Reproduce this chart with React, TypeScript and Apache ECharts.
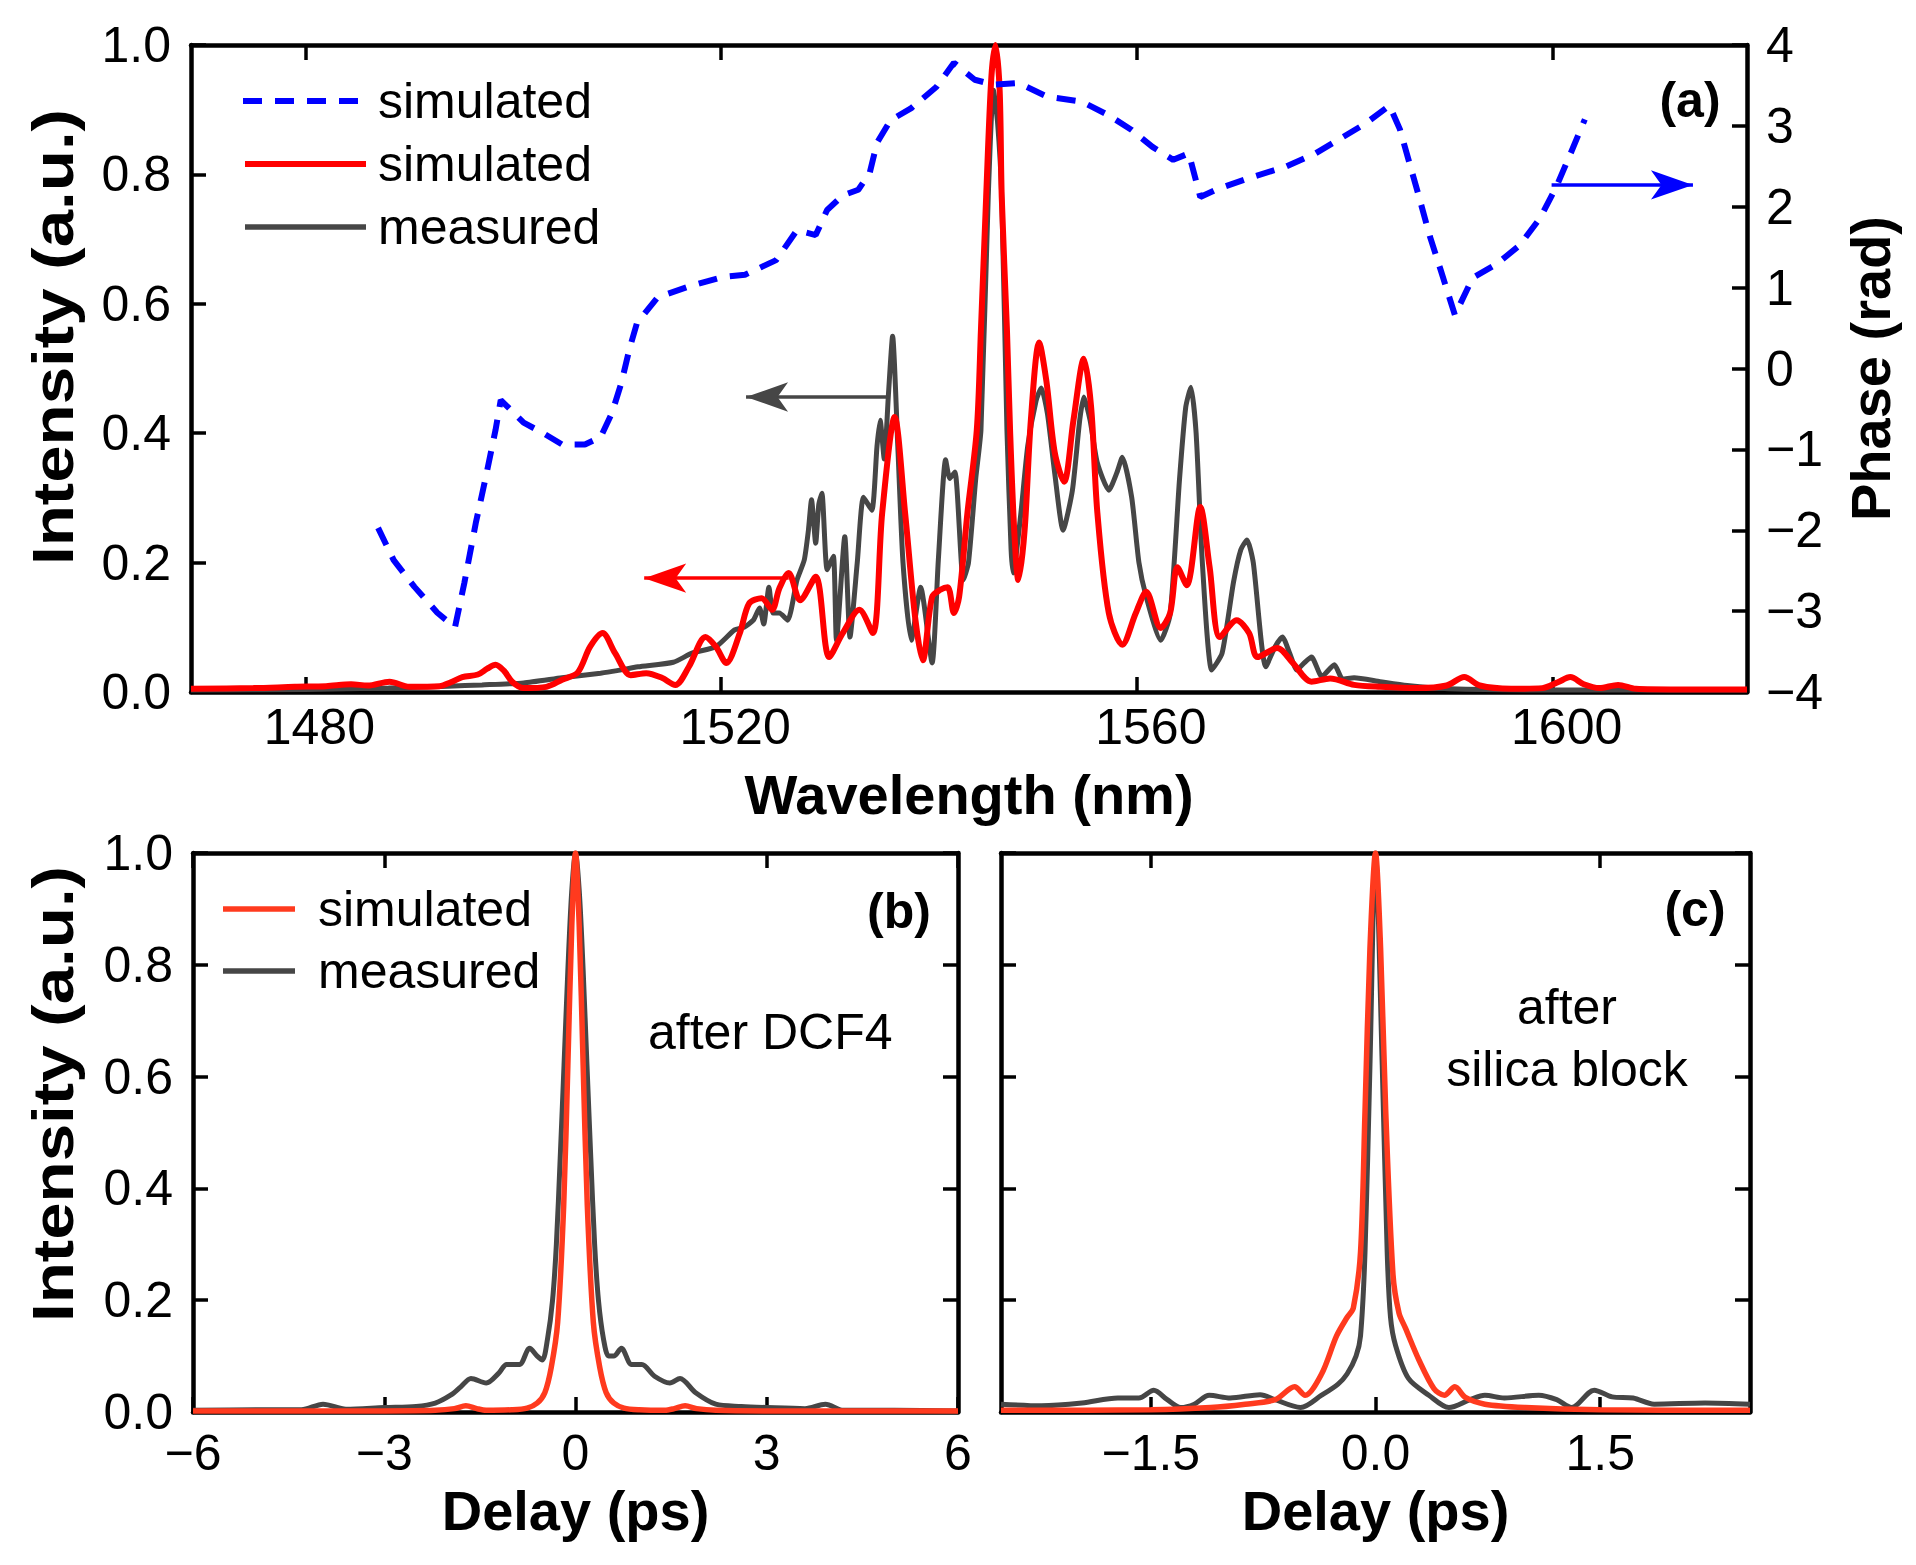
import React, { useEffect, useRef } from "react";
import * as echarts from "echarts";

// ---------------- Panel (a): spectrum & phase ----------------
const wavelengthTicks = [1480, 1520, 1560, 1600];
const wavelengthMin = 1469;
const wavelengthMax = 1618.7;

// simulated spectral phase (rad) vs wavelength (nm)
const phaseSimulated: [number, number][] = [
  [1487.0, -1.97], [1488.5, -2.37], [1490.5, -2.7], [1492.7, -3.02], [1494.4, -3.2],
  [1495.3, -2.65], [1496.4, -1.91], [1497.3, -1.38], [1498.3, -0.76], [1498.8, -0.39],
  [1501.0, -0.67], [1502.9, -0.8], [1504.7, -0.94], [1506.9, -0.94], [1508.4, -0.85],
  [1509.5, -0.55], [1510.4, -0.18], [1511.2, 0.25], [1511.9, 0.56], [1513.9, 0.88],
  [1516.8, 1.01], [1520.1, 1.13], [1522.3, 1.16], [1525.3, 1.34], [1527.3, 1.71],
  [1529.1, 1.65], [1530.2, 1.96], [1531.7, 2.14], [1533.2, 2.21], [1534.3, 2.42],
  [1535.0, 2.79], [1536.3, 3.07], [1538.3, 3.22], [1540.7, 3.48], [1542.4, 3.78],
  [1544.4, 3.57], [1546.2, 3.51], [1548.6, 3.53], [1551.4, 3.36], [1554.7, 3.3],
  [1557.3, 3.13], [1559.5, 2.95], [1561.5, 2.74], [1563.5, 2.58], [1565.0, 2.66],
  [1566.1, 2.12], [1567.6, 2.21], [1570.9, 2.36], [1574.2, 2.49], [1577.2, 2.66],
  [1579.8, 2.86], [1582.0, 3.03], [1584.3, 3.25], [1585.3, 2.96], [1587.0, 2.19],
  [1588.2, 1.63], [1589.2, 1.23], [1590.6, 0.66], [1592.3, 1.12], [1594.6, 1.29],
  [1596.8, 1.52], [1598.8, 1.86], [1600.4, 2.26], [1601.7, 2.65], [1603.1, 3.08],
];

// simulated spectrum intensity (a.u.)
const spectrumSimulated: [number, number][] = [
  [1469, 0.005], [1475, 0.006], [1479, 0.008], [1482, 0.009], [1484.4, 0.012], [1486, 0.01],
  [1488.1, 0.016], [1490, 0.008], [1492.9, 0.009], [1494, 0.015], [1495.1, 0.023], [1496.6, 0.027],
  [1497.5, 0.036], [1498.3, 0.042], [1499.1, 0.033], [1499.9, 0.016], [1501, 0.006], [1503.2, 0.008],
  [1504.7, 0.019], [1506.2, 0.03], [1507.4, 0.07], [1508.6, 0.091], [1509.8, 0.06], [1511.3, 0.026],
  [1512.8, 0.029], [1514.3, 0.022], [1515.6, 0.011], [1516.9, 0.039], [1518.5, 0.085], [1519.5, 0.07],
  [1520.5, 0.045], [1521.8, 0.091], [1522.7, 0.137], [1523.9, 0.145], [1524.9, 0.127], [1525.6, 0.16],
  [1526.5, 0.184], [1527.6, 0.142], [1529.1, 0.178], [1530.4, 0.054], [1531.7, 0.091], [1533.3, 0.127],
  [1534.6, 0.091], [1535.5, 0.277], [1536.7, 0.425], [1537.7, 0.277], [1538.7, 0.111], [1539.4, 0.049],
  [1540.3, 0.147], [1541.1, 0.158], [1541.8, 0.162], [1542.4, 0.122], [1542.9, 0.147], [1543.7, 0.277],
  [1544.6, 0.405], [1545.0, 0.56], [1545.5, 0.765], [1546.0, 0.95], [1546.4, 1.0], [1546.8, 0.93],
  [1547.0, 0.765], [1547.5, 0.56], [1547.8, 0.405], [1548.2, 0.25], [1548.6, 0.173], [1549.2, 0.25],
  [1549.8, 0.42], [1550.6, 0.54], [1551.3, 0.48], [1552.1, 0.37], [1553.0, 0.325], [1553.9, 0.42],
  [1554.9, 0.515], [1555.6, 0.44], [1556.2, 0.277], [1557.3, 0.122], [1558.6, 0.073], [1559.9, 0.122],
  [1560.9, 0.155], [1562.3, 0.099], [1563.2, 0.122], [1563.9, 0.193], [1564.8, 0.165], [1566.1, 0.286],
  [1567.0, 0.193], [1568.0, 0.085], [1569.6, 0.111], [1570.8, 0.091], [1571.6, 0.054], [1573.5, 0.068],
  [1575.0, 0.045], [1576.8, 0.016], [1578.6, 0.021], [1580.9, 0.011], [1583.4, 0.008], [1587, 0.006],
  [1589.8, 0.01], [1591.5, 0.023], [1593, 0.01], [1596, 0.005], [1599, 0.006], [1600.5, 0.015],
  [1601.7, 0.023], [1603, 0.012], [1604.5, 0.006], [1606.3, 0.011], [1608, 0.005], [1612, 0.004],
  [1618.7, 0.004],
];

// measured spectrum intensity (a.u.)
const spectrumMeasured: [number, number][] = [
  [1469, 0.003], [1480, 0.004], [1488, 0.006], [1493.7, 0.009], [1497, 0.011], [1501, 0.014],
  [1504.7, 0.022], [1508.4, 0.029], [1510, 0.033], [1512.0, 0.039], [1515.4, 0.046], [1517.2, 0.06],
  [1519.5, 0.07], [1521.3, 0.096], [1522.2, 0.1], [1523.1, 0.111], [1523.7, 0.13], [1524.1, 0.105],
  [1524.6, 0.162], [1525.0, 0.122], [1525.6, 0.122], [1526.4, 0.111], [1527.3, 0.173], [1528.0, 0.204],
  [1528.4, 0.25], [1528.7, 0.297], [1529.1, 0.23], [1529.4, 0.29], [1529.7, 0.307], [1530.2, 0.189],
  [1530.8, 0.21], [1531.1, 0.08], [1531.9, 0.24], [1532.4, 0.085], [1533.1, 0.2], [1533.7, 0.301],
  [1534.5, 0.281], [1535.0, 0.38], [1535.3, 0.42], [1535.7, 0.36], [1536.1, 0.46], [1536.5, 0.55],
  [1537.0, 0.38], [1537.5, 0.2], [1538.3, 0.08], [1539.2, 0.162], [1540.3, 0.045], [1540.9, 0.204],
  [1541.6, 0.359], [1542.0, 0.33], [1542.5, 0.34], [1543.3, 0.173], [1543.8, 0.2], [1544.5, 0.33],
  [1545.0, 0.405], [1545.7, 0.765], [1546.2, 0.93], [1546.6, 0.88], [1547.0, 0.765], [1547.5, 0.405],
  [1547.9, 0.22], [1548.1, 0.184], [1548.8, 0.27], [1549.5, 0.38], [1550.3, 0.45], [1550.8, 0.47],
  [1551.4, 0.43], [1552.1, 0.338], [1552.9, 0.25], [1553.8, 0.312], [1554.5, 0.42], [1554.9, 0.456],
  [1555.5, 0.42], [1556.2, 0.354], [1557.3, 0.312], [1558.1, 0.34], [1558.6, 0.363], [1559.5, 0.301],
  [1560.2, 0.2], [1560.9, 0.147], [1562.3, 0.08], [1563.2, 0.12], [1564.1, 0.328], [1564.7, 0.44],
  [1565.2, 0.471], [1565.7, 0.4], [1566.3, 0.2], [1567.2, 0.034], [1568.2, 0.06], [1569.3, 0.17],
  [1570.0, 0.22], [1570.6, 0.235], [1571.2, 0.2], [1572.4, 0.039], [1573.3, 0.07], [1574.0, 0.085],
  [1574.7, 0.06], [1575.4, 0.034], [1576.1, 0.045], [1576.8, 0.054], [1577.8, 0.024], [1579.0, 0.042],
  [1579.8, 0.02], [1580.9, 0.022], [1583.4, 0.016], [1586, 0.01], [1590, 0.005], [1600, 0.003],
  [1618.7, 0.003],
];

// annotation arrows (tail -> head), in data units
const arrowMeasured: [number, number][] = [[1536.1, 0.456], [1522.4, 0.456]];
const arrowSimulated: [number, number][] = [[1526.5, 0.176], [1512.6, 0.176]];
const arrowPhase: [number, number][] = [[1599.9, 2.27], [1613.5, 2.27]];

// ---------------- Panel (b): after DCF4 ----------------
const delayTicksB = [-6, -3, 0, 3, 6];
const autocorrSimulatedB: [number, number][] = [
  [-6, 0.002], [-3, 0.002], [-2.2, 0.003], [-1.9, 0.006], [-1.72, 0.011], [-1.55, 0.006],
  [-1.4, 0.003], [-1.0, 0.004], [-0.76, 0.007], [-0.6, 0.016], [-0.48, 0.035], [-0.38, 0.08],
  [-0.28, 0.16], [-0.185, 0.37], [-0.12, 0.62], [-0.058, 0.87], [0, 1.0], [0.058, 0.87],
  [0.12, 0.62], [0.185, 0.37], [0.28, 0.16], [0.38, 0.08], [0.48, 0.035], [0.6, 0.016],
  [0.76, 0.007], [1.0, 0.004], [1.4, 0.003], [1.55, 0.006], [1.72, 0.011], [1.9, 0.006],
  [2.2, 0.003], [3, 0.002], [6, 0.002],
];
const autocorrMeasuredB: [number, number][] = [
  [-6, 0.003], [-5, 0.004], [-4.3, 0.004], [-3.96, 0.014], [-3.6, 0.005], [-3.0, 0.008],
  [-2.5, 0.01], [-2.2, 0.016], [-1.96, 0.03], [-1.8, 0.045], [-1.64, 0.06], [-1.4, 0.052],
  [-1.2, 0.07], [-1.08, 0.085], [-0.88, 0.085], [-0.72, 0.114], [-0.6, 0.1], [-0.52, 0.093],
  [-0.44, 0.13], [-0.36, 0.2], [-0.3, 0.3], [-0.24, 0.454], [-0.18, 0.62], [-0.12, 0.79],
  [-0.06, 0.93], [0, 1.0], [0.06, 0.93], [0.12, 0.79], [0.18, 0.62], [0.24, 0.454], [0.3, 0.3],
  [0.36, 0.2], [0.44, 0.13], [0.52, 0.1], [0.6, 0.1], [0.72, 0.114], [0.88, 0.085], [1.04, 0.085],
  [1.24, 0.064], [1.48, 0.052], [1.64, 0.06], [1.88, 0.035], [2.2, 0.014], [2.6, 0.01], [3.0, 0.008],
  [3.6, 0.006], [3.92, 0.014], [4.2, 0.003], [5, 0.003], [6, 0.002],
];

// ---------------- Panel (c): after silica block ----------------
const delayTicksC = [-1.5, 0, 1.5];
const autocorrSimulatedC: [number, number][] = [
  [-2.5, 0.003], [-1.5, 0.004], [-1.1, 0.008], [-0.87, 0.014], [-0.67, 0.022], [-0.54, 0.045],
  [-0.47, 0.03], [-0.36, 0.068], [-0.26, 0.136], [-0.19, 0.169], [-0.148, 0.186], [-0.1, 0.286],
  [-0.07, 0.538], [-0.037, 0.83], [0, 1.0], [0.034, 0.83], [0.068, 0.54], [0.117, 0.245],
  [0.157, 0.177], [0.2, 0.15], [0.29, 0.093], [0.39, 0.042], [0.46, 0.03], [0.53, 0.045],
  [0.6, 0.026], [0.73, 0.014], [1.0, 0.008], [1.5, 0.004], [2.5, 0.003],
];
const autocorrMeasuredC: [number, number][] = [
  [-2.5, 0.014], [-2.23, 0.011], [-1.96, 0.016], [-1.72, 0.025], [-1.58, 0.025], [-1.48, 0.039],
  [-1.39, 0.022], [-1.3, 0.008], [-1.21, 0.014], [-1.11, 0.03], [-0.97, 0.025], [-0.77, 0.031],
  [-0.67, 0.022], [-0.5, 0.008], [-0.36, 0.03], [-0.25, 0.05], [-0.19, 0.068], [-0.13, 0.1],
  [-0.1, 0.136], [-0.07, 0.286], [-0.037, 0.62], [0, 1.0], [0.045, 0.62], [0.078, 0.286],
  [0.1, 0.17], [0.134, 0.119], [0.22, 0.06], [0.356, 0.03], [0.49, 0.008], [0.63, 0.022],
  [0.73, 0.03], [0.86, 0.025], [1.09, 0.03], [1.21, 0.022], [1.31, 0.008], [1.46, 0.039],
  [1.58, 0.027], [1.72, 0.025], [1.86, 0.014], [2.2, 0.016], [2.5, 0.014],
];

// ---------------- styling ----------------
const FONT = '"Liberation Sans", Arial, Helvetica, sans-serif';
const BLACK = "#000";
const RED_A = "#ff0000";
const RED_BC = "#ff3a1e";
const GRAY = "#464646";
const BLUE = "#0000ff";
const DASH = [19, 13];

const fmtNum = (v: number, d: number) => (v < 0 ? "\u2212" : "") + Math.abs(v).toFixed(d);

const axLine = { show: true, onZero: false, lineStyle: { color: BLACK, width: 4.5 } };
const axTick = (custom?: number[]) => ({
  show: true,
  inside: true,
  length: 15,
  lineStyle: { color: BLACK, width: 3.5 },
  ...(custom ? { customValues: custom } : {}),
});
const lbl = { color: BLACK, fontSize: 50, fontFamily: FONT };
const noSplit = { show: false };

const arrowMark = (a: [number, number][], color: string) => ({
  silent: true,
  symbol: ["none", "arrow"],
  symbolSize: [22, 42],
  label: { show: false },
  emphasis: { disabled: true },
  lineStyle: { color, width: 3.5, type: "solid" },
  data: [[{ coord: a[0] }, { coord: a[1] }]],
});

const txt = (
  text: string,
  x: number,
  y: number,
  size: number,
  bold: boolean,
  opts: Record<string, any> = {}
) => {
  const { align, lineHeight, ...rest } = opts;
  return {
    type: "text",
    x,
    y,
    silent: true,
    ...rest,
    style: {
      text,
      fill: BLACK,
      fontSize: size,
      fontWeight: bold ? "bold" : "normal",
      fontFamily: FONT,
      align: align || "center",
      verticalAlign: "middle",
      lineHeight,
    },
  };
};

const legLine = (x1: number, x2: number, y: number, color: string, width: number, dash?: number[]) => ({
  type: "line",
  silent: true,
  shape: { x1, y1: y, x2, y2: y },
  style: { stroke: color, lineWidth: width, lineDash: dash || null },
});

const line = (
  data: [number, number][],
  xi: number,
  yi: number,
  color: string,
  width: number,
  extra: Record<string, unknown> = {}
) => ({
  type: "line",
  data,
  xAxisIndex: xi,
  yAxisIndex: yi,
  showSymbol: false,
  symbol: "none",
  smooth: 0.3,
  lineStyle: { color, width },
  itemStyle: { color },
  emphasis: { disabled: true },
  ...extra,
});

export default function App() {
  const ref = useRef<HTMLDivElement>(null);

  useEffect(() => {
    document.body.style.margin = "0";
    const chart = echarts.init(ref.current as HTMLDivElement, null, { renderer: "svg" });

    const option = {
      animation: false,
      backgroundColor: "#fff",
      grid: [
        { left: 191, top: 45, width: 1556, height: 647 },
        { left: 193, top: 853, width: 765, height: 559 },
        { left: 1001, top: 853, width: 749, height: 559 },
      ],
      xAxis: [
        {
          type: "value", gridIndex: 0, position: "bottom", min: wavelengthMin, max: wavelengthMax,
          axisLine: axLine, axisTick: axTick(wavelengthTicks), splitLine: noSplit,
          axisLabel: {
            ...lbl, margin: 10, padding: [0, 0, 0, 28],
            customValues: wavelengthTicks, formatter: (v: number) => String(v),
          },
        },
        {
          type: "value", gridIndex: 0, position: "top", min: wavelengthMin, max: wavelengthMax,
          axisLine: axLine, axisTick: axTick(wavelengthTicks), splitLine: noSplit,
          axisLabel: { show: false },
        },
        {
          type: "value", gridIndex: 1, position: "bottom", min: -6, max: 6, interval: 3,
          axisLine: axLine, axisTick: axTick(delayTicksB), splitLine: noSplit,
          axisLabel: { ...lbl, margin: 16, customValues: delayTicksB, formatter: (v: number) => fmtNum(v, 0) },
        },
        {
          type: "value", gridIndex: 1, position: "top", min: -6, max: 6, interval: 3,
          axisLine: axLine, axisTick: axTick(delayTicksB), splitLine: noSplit, axisLabel: { show: false },
        },
        {
          type: "value", gridIndex: 2, position: "bottom", min: -2.5, max: 2.5,
          axisLine: axLine, axisTick: axTick(delayTicksC), splitLine: noSplit,
          axisLabel: { ...lbl, margin: 16, customValues: delayTicksC, formatter: (v: number) => fmtNum(v, 1) },
        },
        {
          type: "value", gridIndex: 2, position: "top", min: -2.5, max: 2.5,
          axisLine: axLine, axisTick: axTick(delayTicksC), splitLine: noSplit, axisLabel: { show: false },
        },
      ],
      yAxis: [
        {
          type: "value", gridIndex: 0, position: "left", min: 0, max: 1, interval: 0.2,
          axisLine: axLine, axisTick: axTick(), splitLine: noSplit,
          axisLabel: { ...lbl, margin: 20, formatter: (v: number) => fmtNum(v, 1) },
        },
        {
          type: "value", gridIndex: 0, position: "right", min: -4, max: 4, interval: 1,
          axisLine: axLine, axisTick: axTick(), splitLine: noSplit,
          axisLabel: { ...lbl, margin: 19, formatter: (v: number) => fmtNum(v, 0) },
        },
        {
          type: "value", gridIndex: 1, position: "left", min: 0, max: 1, interval: 0.2,
          axisLine: axLine, axisTick: axTick(), splitLine: noSplit,
          axisLabel: { ...lbl, margin: 20, formatter: (v: number) => fmtNum(v, 1) },
        },
        {
          type: "value", gridIndex: 1, position: "right", min: 0, max: 1, interval: 0.2,
          axisLine: axLine, axisTick: axTick(), splitLine: noSplit, axisLabel: { show: false },
        },
        {
          type: "value", gridIndex: 2, position: "left", min: 0, max: 1, interval: 0.2,
          axisLine: axLine, axisTick: axTick(), splitLine: noSplit, axisLabel: { show: false },
        },
        {
          type: "value", gridIndex: 2, position: "right", min: 0, max: 1, interval: 0.2,
          axisLine: axLine, axisTick: axTick(), splitLine: noSplit, axisLabel: { show: false },
        },
      ],
      series: [
        line(spectrumMeasured, 0, 0, GRAY, 5, { name: "measured", smooth: 0.2, markLine: arrowMark(arrowMeasured, GRAY) }),
        line(spectrumSimulated, 0, 0, RED_A, 6, { name: "simulated", markLine: arrowMark(arrowSimulated, RED_A) }),
        line(phaseSimulated, 0, 1, BLUE, 6, {
          name: "simulated phase",
          smooth: false,
          lineStyle: { color: BLUE, width: 6, type: DASH },
          markLine: arrowMark(arrowPhase, BLUE),
        }),
        line(autocorrMeasuredB, 2, 2, GRAY, 5, { name: "measured (b)" }),
        line(autocorrSimulatedB, 2, 2, RED_BC, 5.5, { name: "simulated (b)" }),
        line(autocorrMeasuredC, 4, 4, GRAY, 5, { name: "measured (c)" }),
        line(autocorrSimulatedC, 4, 4, RED_BC, 5.5, { name: "simulated (c)" }),
      ],
      graphic: [
        // axis titles
        txt("Intensity (a.u.)", 53, 337, 58, true, { rotation: Math.PI / 2, scaleX: 1.16 }),
        txt("Phase (rad)", 1870, 368.5, 56, true, { rotation: Math.PI / 2 }),
        txt("Wavelength (nm)", 969, 794, 56, true),
        txt("Intensity (a.u.)", 53, 1094, 58, true, { rotation: Math.PI / 2, scaleX: 1.16 }),
        txt("Delay (ps)", 575.5, 1510, 56, true),
        txt("Delay (ps)", 1375.5, 1510, 56, true),
        // panel tags
        txt("(a)", 1690, 100, 50, true),
        txt("(b)", 899, 911, 50, true),
        txt("(c)", 1695, 909, 50, true),
        // annotations
        txt("after DCF4", 648, 1032, 50, false, { align: "left" }),
        txt("after\nsilica block", 1567, 1038, 50, false, { lineHeight: 62 }),
        // legend (a)
        legLine(243, 364, 101, BLUE, 6, DASH),
        legLine(245, 366, 164, RED_A, 6),
        legLine(245, 366, 227, GRAY, 5.5),
        txt("simulated", 378, 101, 50, false, { align: "left" }),
        txt("simulated", 378, 164, 50, false, { align: "left" }),
        txt("measured", 378, 227, 50, false, { align: "left" }),
        // legend (b)
        legLine(223, 295, 909, RED_BC, 5.5),
        legLine(223, 295, 971, GRAY, 5.5),
        txt("simulated", 318, 909, 50, false, { align: "left" }),
        txt("measured", 318, 971, 50, false, { align: "left" }),
      ],
    };

    chart.setOption(option as any);
    return () => chart.dispose();
  }, []);

  return <div ref={ref} style={{ width: 1916, height: 1565 }} />;
}
